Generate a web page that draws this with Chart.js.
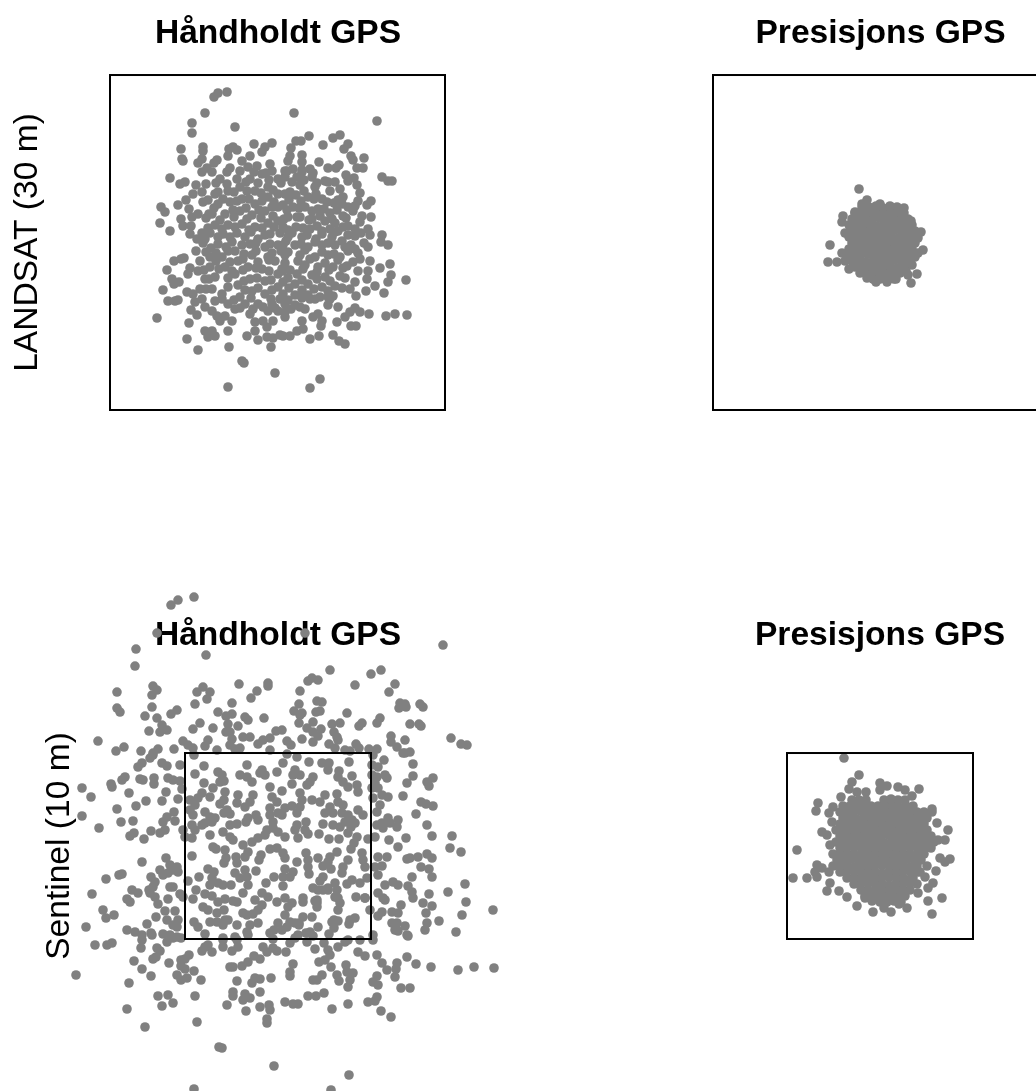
<!DOCTYPE html>
<html>
<head>
<meta charset="utf-8">
<script src="https://cdn.jsdelivr.net/npm/chart.js@4"></script>
<style>
html, body { margin: 0; background: #fff; overflow: hidden; width: 1036px; height: 1091px; }
canvas { position: absolute; }
</style>
</head>
<body>
<canvas id="c1" style="left:0;top:0" width="556" height="450"></canvas>
<canvas id="c2" style="left:600px;top:0" width="561" height="450"></canvas>
<canvas id="c3" style="left:0;top:585px" width="556" height="506"></canvas>
<canvas id="c4" style="left:600px;top:585px" width="560" height="506"></canvas>
<script>
// offsets from the box centre
const landsatHand = [
[-5.1,15],[-6,14.9],[-6.4,14.5],[-7.3,12.9],[-8.6,11.9],[-8.6,10.9],[-4.3,11.5],[-9.7,9.3],[-9.6,8.3],[-9.5,8.1],
[-7.5,9.5],[-7.5,9.1],[-7.6,8.3],[-8,7.9],[-4.5,9.5],[-4.9,9.3],[-4.1,9.2],[-5,8.6],[-2.4,9.8],[-0.6,9.9],
[-1.3,9.5],[-1.6,9],[-2.8,8.6],[-0.8,7.8],[-6.1,8.2],[-6.4,7.9],[-3.6,8.1],[-10.8,6.4],[-9.3,6],[-9.8,5.8],
[-4.8,7.4],[-5.1,7],[-7.1,7.4],[-7.6,7],[-6.6,7],[-3.8,7.1],[-3,7.5],[-2.1,7.6],[-8.2,5.7],[-7.2,5.8],
[-5.8,6.3],[-6.2,5.9],[-4.1,6.3],[-5.1,5.8],[-8.5,4.8],[-7.6,5],[-9.2,4.2],[-10,3.7],[-11.7,3.5],[-11.3,3],
[-11.8,1.9],[-10.8,1.1],[-8.9,3.3],[-8,2.8],[-8.6,2.5],[-9.7,2.3],[-9.5,1.6],[-8.7,1.6],[-8.8,0.8],[-7.6,0.9],
[-6.9,2.8],[-7.5,4],[-6,5],
[-6.3,4.8],[-5,5.1],[-3.8,5.5],[-2.8,6.3],[-1.6,6.8],[-0.6,7.1],[0,6.3],[-1,5.5],[-2.3,5.1],[-4.8,4],
[-6,3.8],[-3.6,4.3],[-2.3,3.8],[-1,4.5],[0,4.8],[-6.6,2.8],[-5.3,2.8],[-3.8,3.1],[-2.6,2.7],[-1.3,3.1],
[0,3.5],[-6.3,1.7],[-5,1.7],[-3.6,1.8],[-2.3,1.5],[-1,1.9],[0,2.1],[-7.3,0.3],[-6,0.5],[-4.8,0.5],
[-3.3,0.5],[-2,0.3],[-0.8,0.8],[0.2,0.9],[0.7,7.1],
[1.6,12.9],[9.9,12.1],[3.1,10.6],[2.3,10.1],[1.8,10.1],[1.3,9.4],[4.5,9.7],[5.5,10.4],[6.2,10.7],[7,9.8],
[6.6,9.3],[7.3,8.6],[7.5,8.2],[8.6,8.4],[7.9,7.4],[8.5,7.4],[10.4,6.5],[11,6.1],[11.4,6.1],[2.4,8.7],
[1.2,8.6],[1,8.1],[2.4,8],[4.1,8],[6.1,7.7],[5,7.4],[5.8,7.4],[1.5,7.3],[3.2,7.3],[2.4,7],
[6.8,6.7],[7.6,6.4],[7,6.1],[1.9,6.5],[3.4,6.5],[4.7,6.1],[5.7,6],[7.9,5.7],[8.2,4.9],[6.2,5.3],
[6.5,4.5],[6.4,3.8],[9.3,4.1],[8.9,3.7],[8,4.1],[7.7,3.6],[7.5,3.1],[8.4,2.6],[9.3,2.5],[8.2,2],
[9,1.3],[9.2,0.7],[10.4,0.7],[7,1.6],[6.5,2.6],[6,1.1],[7.7,0.6],
[0.7,6.5],[2.2,5.7],[3.7,5.5],[5.2,5.1],[0.7,4.8],[1.8,4.7],[3,4.5],[4.4,4.3],[5.6,3.9],[0.5,3.7],
[1.5,3.5],[2.7,3.5],[4,3.3],[5.2,2.9],[1,2.5],[2.2,2.5],[3.4,2.3],[4.7,2.1],[5.7,1.9],[0.5,1.5],
[1.8,1.5],[3.2,1.3],[4.4,1.1],[5.4,0.5],[1,0.5],[2.4,0.5],[3.8,0.3],
[10.3,0],[11,-0.3],[11.2,-2.2],[10.2,-2.6],[11.3,-3.3],[11,-4],[12.8,-3.8],[10.6,-5.1],[9.7,-4.4],[9,-2.9],
[8.9,-3.7],[8.8,-4.9],[9.1,-7.2],[10.8,-7.4],[11.7,-7.2],[12.9,-7.3],[8.2,-7],[7.7,-6.6],[7.2,-7],[7.8,-8.4],
[7.3,-8.4],[6.7,-7.5],[6,-6.5],[5.9,-8],[5.5,-9.3],[6.1,-9.9],[6.7,-10.2],[4.1,-9.4],[3.2,-9.7],[2.5,-8.7],
[1.9,-8.9],[1.2,-9.4],[0.5,-9.4],[4.2,-13.7],[3.2,-14.6],[0.7,-7.5],[2.4,-7.9],[3.5,-7.5],[4,-7.2],[4.4,-7.9],
[4.3,-8.4],[2.7,-6.7],[0.7,-7],[5,-6.3],[7.8,-5.4],[7.2,-4.7],[7.7,-4],[8.2,-1.7],[9,-0.5],[7.7,-0.7],
[9.2,-1.9],[6.9,-2.4],[6.2,-3.4],[5.5,-5.4],
[0.5,-0.3],[1.7,-0.3],[3,-0.5],[4.4,-0.3],[5.7,-0.3],[6.7,-0.5],[0.7,-1.3],[2.2,-1.3],[3.7,-1.5],[5,-1.3],
[6.2,-1.5],[2.7,-2.3],[4,-2.5],[5.5,-2.5],[0.5,-2.9],[1.9,-3.2],[3.4,-3.3],[4.7,-3.5],[0.5,-4],[1.7,-4.2],
[3,-4.2],[4.4,-4.5],[5.7,-4.4],[0.5,-5.2],[1.7,-5.3],[3,-5.3],[4.2,-5.5],[5.2,-5.7],[0.7,-6.2],[1.7,-6.3],[3.2,-5.7],
[-8.1,0.3],[-5.2,-0.5],[-8.2,-0.9],[-6.7,-0.6],[-9.4,-1.6],[-9.7,-1.7],[-10.4,-1.9],[-11.1,-2.8],[-8.8,-2.6],[-9,-3.2],
[-10.6,-3.7],[-10.4,-4.2],[-9.9,-4],[-11.5,-4.8],[-9.1,-5],[-8.5,-5.2],[-11,-5.9],[-10.3,-5.9],[-10,-5.8],[-8.3,-6],
[-8.7,-6.8],[-8.1,-7.3],[-12.1,-7.6],[-8.9,-8.1],[-6.6,-6.9],[-6.1,-7.4],[-5.8,-7.9],[-5.3,-7.4],[-4.6,-7.9],[-7.3,-8.9],
[-6.6,-8.9],[-6.3,-9.4],[-7,-9.5],[-5,-8.9],[-9.1,-9.7],[-8,-10.8],[-4.9,-10.5],[-3.6,-11.9],[-3.4,-12.1],[-0.3,-13.1],
[-5,-14.5],[-2.8,-7.2],[-2.3,-8],[-1.5,-7.9],[-0.5,-7.9],[-1.1,-8.5],[-2.3,-8.9],[-3.1,-9.4],[-2,-9.8],[-1.1,-9.5],
[-0.5,-9.6],[0.2,-9.3],[-0.7,-10.5],[-7.3,-6.5],[-7.6,-5.7],
[-7.8,-1.9],[-6.8,-1.5],[-5.6,-1.5],[-4.3,-0.9],[-2.8,-0.2],[-1.3,-0.5],[0,-0.3],[-8,-2.9],[-6.8,-2.5],[-5.3,-2.5],
[-4,-1.9],[-2.6,-1.3],[-1,-1.5],[0.3,-0.9],[-7.3,-3.7],[-6.3,-3.5],[-4.3,-3.2],[-3,-2.5],[-1.6,-2.7],[-0.3,-1.9],
[-7.8,-4.7],[-6.6,-4.7],[-5.6,-5.2],[-4,-4.3],[-2.8,-3.7],[-1.3,-3.9],[0,-3.2],[-6.3,-5.9],[-5,-6.2],[-3.8,-5.5],
[-2.6,-4.9],[-1.3,-5.2],[0,-4.5],[-4.3,-6.7],[-3.3,-6.2],[-2,-6.2],[-0.6,-6.2],[0.2,-5.7],[-1,-6.9],[0,-6.9],
[-2.4,7],[-1.2,6.9],[0.9,7.1],[2.4,7.2],[3.5,6.9],
[-3.2,6],[-2,5.9],[-0.9,6.2],[0.3,5.9],[1.4,6],[2.6,6.2],[3.9,5.9],[5,6],
[-4.4,5],[-3.1,5.1],[-1.7,4.9],[-0.5,5.2],[1.2,5],[2.6,5.1],[3.8,4.8],
[-7,4.2],[-5.5,4.3],[-4.1,4.1],[-2.9,4.3],[-1.6,4.1],[-0.4,4],[1.1,4.2],[2.3,4.1],[3.6,4.3],[4.9,4],[6,4.2],
[-6.4,3.4],[-4.5,3.2],[-3.2,3.4],[-1.9,3.2],[-0.6,3.5],[0.9,3.2],[2.1,3.4],[3.4,3.1],[4.6,3.3],[5.9,3.2],[7,3.5],
[-7.2,2.4],[-5.8,2.2],[-4.4,2.5],[-3.1,2.3],[-1.7,2.4],[-0.5,2.6],[0.6,2.3],[1.9,2.5],[3.1,2.2],[4.2,2.6],[5.4,2.3],[6.8,2.4],
[-7,1.4],[-5.6,1.3],[-4.3,1.5],[-2.9,1.2],[-1.6,1.4],[-0.4,1.5],[1,1.2],[2.5,1.4],[3.9,1.6],[5.2,1.3],[6.5,1.5],[7.7,1.3],
[-6.8,0.9],[-5.5,0.8],[-4.1,0.9],[-2.7,1],[-1.3,0.7],[1.4,0.9],[2.9,0.7],[4.4,0.8],[5.7,1],[7,0.7],[8.3,0.9],
[-7.5,-0.1],[-6,-0.2],[-4.6,0],[-3.6,-0.3],[-2.2,-0.1],[-0.8,-0.2],[0.8,0.1],[2.3,-0.2],[3.7,0],[5,-0.1],[6.4,0.1],[7.3,-0.3],[8.6,-0.1],
[-7.2,-1],[-6.2,-1.1],[-5,-0.9],[-3.4,-1.2],[-2.2,-0.9],[-0.6,-1.1],[1,-1],[2.7,-0.8],[4.4,-1],[5.6,-1.2],[7,-0.9],[8,-1.1],
[-6.2,-1.9],[-4.8,-2],[-3.5,-1.7],[-2,-2],[-0.9,-1.8],[0.7,-2.1],[2,-1.9],[3.2,-1.7],[4.7,-2.1],[6,-1.8],[7.5,-2],
[-7.4,-2.8],[-5.9,-2.7],[-4.6,-2.9],[-3.5,-2.8],[-2.2,-2.6],[-0.9,-2.9],[0.4,-2.7],[1.2,-2.8],[2.5,-2.7],[3.9,-3],[5.1,-2.8],[6.5,-2.6],[8,-2.9],
[-6.9,-3.7],[-5,-3.6],[-3.4,-3.9],[-2.1,-3.6],[-0.7,-3.8],[1,-3.6],[2.4,-3.8],[3.9,-3.7],[5.2,-3.9],[6.7,-3.6],
[-7.2,-4.7],[-5,-4.5],[-3.3,-4.8],[-2,-4.6],[-0.6,-4.8],[1.1,-4.6],[2.4,-4.8],[3.6,-4.7],[5,-4.9],[6.4,-4.6],
[-5.6,-5.7],[-4.4,-5.8],[-2.7,-5.6],[-0.7,-5.7],[1,-5.8],[2.4,-5.6],[3.7,-5.7],[5,-5.5],
[-3.8,-6.6],[-2.5,-6.7],[-1.5,-6.5],[-0.3,-6.6],[1.3,-6.7],[2.2,-6.5]
];

const landsatPrecise = [
[-2.1,5.4],[-1.3,4.3],[-1.8,3.9],[0,3.9],[1,3.7],[2.4,3.5],[-3.7,2.7],[-3.8,2.1],[3.1,2.2],[4.1,1.1],
[3.8,0.5],[-3.5,1],[-5,-0.2],[4.3,-0.7],[3.8,-1],[-5.2,-1.9],[-4.3,-1.9],[-3.8,-1],[3.7,-3.1],[3.1,-4],
[2.8,-3.2],[-3.1,-2.6],[-2,-3],[-1.3,-3.5],[-0.4,-3.9],[0.7,-3.9],[1.6,-3.6],[3.2,-2.2],[-2.5,3.1],[-1,3.4],
[-1.8,3.6],[-1.1,3.6],[-0.4,3.7],[0.3,3.5],[1,3.6],[1.7,3.6],
[-2.5,3],[-1.8,3],[-1.1,3.1],[-0.4,3],[0.3,3],[1,3],[1.7,3.1],[2.4,3],
[-2.8,2.4],[-2.1,2.4],[-1.4,2.4],[-0.7,2.4],[0,2.5],[0.7,2.4],[1.4,2.4],[2.1,2.4],[2.8,2.4],
[-3.1,1.8],[-2.4,1.8],[-1.7,1.8],[-1,1.8],[-0.3,1.7],[0.4,1.8],[1.1,1.8],[1.8,1.9],[2.5,1.8],[3.2,1.8],
[-2.8,1.2],[-2.1,1.2],[-1.4,1.1],[-0.7,1.2],[0,1.2],[0.7,1.2],[1.4,1.3],[2.1,1.2],[2.8,1.2],[3.5,1.2],
[-3.1,0.6],[-2.4,0.6],[-1.7,0.6],[-1,0.7],[-0.3,0.6],[0.4,0.6],[1.1,0.6],[1.8,0.5],[2.5,0.6],[3.2,0.6],
[-2.8,0],[-2.1,0],[-1.4,0.1],[-0.7,0],[0,0],[0.7,0],[1.4,0],[2.1,-0.1],[2.8,0],[3.5,0],
[-3.1,-0.6],[-2.4,-0.6],[-1.7,-0.5],[-1,-0.6],[-0.3,-0.6],[0.4,-0.6],[1.1,-0.7],[1.8,-0.6],[2.5,-0.6],[3.2,-0.6],
[-3.3,-1.2],[-2.6,-1.2],[-1.9,-1.2],[-1.2,-1.1],[-0.5,-1.2],[0.2,-1.2],[0.9,-1.2],[1.6,-1.3],[2.3,-1.2],[3,-1.2],[3.5,-1.4],
[-3.5,-1.8],[-2.8,-1.8],[-2.1,-1.8],[-1.4,-1.9],[-0.7,-1.8],[0,-1.8],[0.7,-1.8],[1.4,-1.7],[2.1,-1.8],[2.8,-1.8],[3,-2],
[-2.5,-2.4],[-1.8,-2.4],[-1.1,-2.3],[-0.4,-2.4],[0.3,-2.4],[1,-2.4],[1.7,-2.5],[2.4,-2.4],
[-1.5,-3],[-0.8,-3],[-0.1,-3],[0.6,-3.1],[1.3,-3],[2,-3],[2.6,-2.8],
[-0.7,-3.6],[0,-3.6],[0.7,-3.5],[1.4,-3.6]
];

const sentinelHand = [
[-8.4,24.9],[-10,24.6],[-10.7,24.1],[-12.1,21.3],[-14.2,19.7],[-14.3,18],[-7.2,19.1],[-16.1,15.4],[-16.1,13.8],[-15.8,13.4],
[-12.5,16],[-12.1,15.6],[-12.6,15.1],[-12.6,13.9],[-13.3,13],[-12.1,12.8],[-12.9,11.5],[-11.6,12.1],[-11.8,11.4],[-11.1,11.6],
[-10.7,13.2],[-10.1,13.6],[-8.3,14.2],[-8.1,15.4],[-7.5,15.9],[-6.8,15.4],[-7.1,14.7],[-8.5,11.7],[-7.8,12.3],[-6.5,11.8],
[-6,13.4],[-5.2,13],[-4.6,13.2],[-4.6,14.3],[-3.9,16.2],[-2.1,15.5],[-2.7,14.8],[-1,16.3],[-1,16],[-1.4,12.8],
[-3.3,12.9],[-3,12.6],[-5,12.2],[-4,12],[-5.2,11.4],[-4.8,11.4],[-0.2,11.5],[-18,10.5],[-16.2,9.5],[-15.4,9.9],
[-13.7,9.5],[-12,9.7],[-12.5,9.3],[-10.4,9.7],[-9.5,10.5],[-9,10.1],[-8.5,9.8],[-7,10.6],[-7.3,10],[-6.1,9.6],
[-4.6,10.7],[-3.5,10.9],[-2.8,10.9],[-4.8,10.1],[-1.5,10.6],[-2,10.2],[-0.8,10.8],[-3.8,9.8],[-4.3,9.7],[-0.8,9.6],
[2.7,21.3],[16.5,20.1],[5.2,17.6],[10.3,17.6],[9.3,17.2],[3,16.5],[3.4,16.8],[4,16.6],[7.7,16.1],[11.7,16.2],
[11.1,15.4],[2.2,15.5],[3.9,14.5],[4.4,14.4],[2.1,14.2],[1.6,13.5],[2.4,13.3],[2.2,13.1],[3.8,13.4],[4.2,13.5],
[12.1,13.8],[12.2,14.3],[12.7,14.2],[12.8,13.9],[14.2,14.2],[14.5,13.9],[6.9,13.3],[10.2,12.8],[9.9,12.3],[8.4,12.3],
[8.1,12],[3.5,12.4],[2.1,12.3],[6.2,12.3],[5.4,12.2],[13.2,12.2],[14.1,12.2],[14.3,12],[17.3,10.8],[18.3,10.2],
[18.9,10.1],[0.4,11.6],[2.9,11.8],[3.5,11.4],[4.3,11.7],[4,11],[2.4,10.7],[5.6,11.4],[5.9,10.9],[6,10.6],
[11.3,11],[11.3,10.4],[11.9,9.9],[12.7,10.6],[0.9,10.5],[1.3,10.1],[3.5,10.4],[5.1,10.2],[5.7,9.8],[6.7,9.6],
[7.2,9.5],[7.8,10.2],[8.1,9.8],[9.1,9.7],[9.9,9.7],[13.2,9.4],[12.5,9.3],
[-12.5,9.1],[-12.8,8.8],[-11.6,8.3],[-11.1,8],[-9.8,8.1],[-14,7.9],[-13.6,8.3],[-8.4,9.1],[-7.4,8],[-8.3,7.2],
[-6,7.4],[-5.6,7.1],[-5.8,6.4],[-5.4,6.5],[-3.1,8.1],[-3.8,7.1],[-3.1,6.9],[-2.6,6.4],[-1.6,7.6],[-1.8,7.3],
[-1.3,7.1],[-0.1,7.4],[-15.3,6.9],[-15.6,6.6],[-16.7,6.2],[-16.6,5.9],[-13.8,6.7],[-13.5,6.6],[-12.4,6.8],[-12.4,6.2],
[-11,6.8],[-10.5,6.6],[-9.8,6.5],[-7.4,6.3],[-19.6,5.8],[-18.7,4.9],[-14.9,5.3],[-11.2,5.4],[-9.6,5.7],[-13.2,4.5],
[-14.2,4],[-11.6,4.5],[-10,4.7],[-16.1,3.7],[-6.5,5.8],[-7.6,5.3],[-8,4.8],[-8.8,4.6],[-8.3,4.1],[-8.8,3.6],
[-6.8,4.9],[-5.3,5.4],[-5.4,4.6],[-5.8,4.2],[-4,5.1],[-4.1,4.3],[-2.5,5.1],[-2.8,4.4],[-3.3,3.9],[-0.8,5.9],
[-0.6,4.9],[-0.1,4.4],[-5.1,3.6],[-5.4,3.3],[-4.8,3.2],[-7.3,3.4],[-6.8,2.9],[-6.3,2.8],[-6.6,2.4],[-8.5,3.1],
[-10.4,3.4],[-11.1,2.9],[-11.5,2.4],[-10.3,2.5],[-19.6,3],[-15.7,2.4],[-14.5,2.5],[-17.9,1.8],[-14.8,1],[-14.4,1.3],
[-12.7,1.5],[-11.8,1.3],[-11.3,1.6],[-13.4,0.7],[-9.5,1.6],[-9.3,0.9],[-8.6,2.1],[-8.6,0.8],[-8.3,1.6],[-7.3,2.3],
[-7.6,2.1],[-6.8,1.1],[-5.5,1.4],[-4.8,2.1],[-4.1,2.2],[-3.2,2.4],[-2.2,3.1],[-2,2.6],[-3,2.8],[-0.8,3.8],
[-0.8,3.1],[-0.5,2.4],[0,3.3],[-4.8,0.9],[-4.5,0.6],[-3.5,0.1],[-2.6,0.4],[-2,0.8],[-1.3,1.1],[-1.1,1.6],
[-0.5,1.8],[0,1.4],[-6.5,-0.1],[-6.2,-0.3],[-5.3,-0.4],[-3,-0.6],[-3.3,-1.1],[-0.8,-0.3],[-0.1,-0.2],[-8.6,-1],
[-5.2,-1.2],[-5.4,-1.7],[-4.2,-1.1],[-4.1,-1.7],[-1.7,-0.9],[-1.9,-1.4],[-13.6,-1.6],[-11.2,-1.2],[-10.8,-1.9],[-10.5,-2.4],
[-11,-2.7],[-10,-2.6],[-10.1,-2.1],[-11.8,-2.4],[-11.5,-2.9],[-15.6,-2.8],[-15.9,-2.9],[-17.2,-3.3],[-12.7,-3.1],[-12.3,-3.6],
[-12.5,-4.1],[-12.9,-4.4],[-10.8,-4.1],[-10.5,-4.1],[-9,-3.5],[-7.9,-3.1],[-7,-2.3],[-6.4,-2.6],[-6.6,-3.2],[-6.8,-3.9],
[-6,-3.7],[-5.5,-3.9],[-4.7,-3.9],[-4.3,-2.7],[-3.8,-3.2],[-3.3,-2.4],[-3.1,-3.1],[-3,-3.9],[-2.2,-2.5],[-3.5,-4.7],
[-1.2,-3.7],[-0.4,-3.1],[-18.6,-4.8],[-14.6,-4.4],[-14,-4.7],[-15.1,-5.3],[-14.8,-5.6],[-12.8,-4.7],[-12.3,-5.1],[-12,-5.8],
[-11.3,-6.5],[-11,-5.3],[-9.8,-4.8],[-9.5,-5.1],[-8.2,-4.4],[-8.5,-5.3],[-7.3,-4.8],[-6.6,-5],[-6,-5.6],[-5.3,-5.3],
[-4.5,-5.5],[-4.1,-5.6],[-2.3,-5.4],[-1.6,-4.7],[-1,-5.1],[-0.1,-5.6],[-17.5,-6.4],[-17.2,-7.2],[-16.4,-6.9],[-19.2,-8.1],
[-10.3,-6.5],[-12.2,-7.1],[-13.1,-7.8],[-11.1,-7.4],[-10.5,-7.9],[-10,-7.4],[-10.1,-8.1],[-7.5,-6.1],[-7,-6.4],[-6.1,-6.7],
[-5.4,-6.4],[-3.5,-6.7],[-3.1,-6.9],[-2.5,-6.8],[-1.6,-5.9],[-2,-6.4],[-6.1,-7.6],[-5.3,-7.4],[-5,-7.4],[-6.8,-7.6],
[-5.5,-7.9],[-8.4,-7.6],[-8,-8.1],[-4.1,-7.9],[-2.8,-7.9],[-3.1,-8.6],[-2,-7.7],[-0.4,-8.4],[-0.8,-8.7],[0,-7.7],
[-7.3,-8.8],[-15.1,-8.4],[-14.3,-8.6],[-13.6,-8.9],[-12.7,-8.7],[-11.5,-8.8],[-10.8,-8.9],[-10.1,-9.1],[-5.5,-9.2],[-4.3,-9.1],
[-3,-8.9],
[0.9,9.2],[1.9,8.9],[0.5,8.3],[3.1,8.4],[4.4,8.3],[5.1,8.3],[7.1,8.4],[5,7.6],[1.7,7.6],[1.5,7.1],
[2.2,7.1],[3.5,6.9],[3.2,6.4],[2.9,6.1],[1.4,6.2],[6.1,7.5],[6,6.9],[7.4,7],[6.5,6.4],[7,5.9],
[7.9,6.1],[8,5.4],[0.4,5.5],[2.2,5.3],[2.4,4.6],[4.7,5.1],[4.2,4.4],[5.9,5.2],[6,4.4],[6.5,4.1],
[3.4,4.6],[1.4,4],[0.7,3.8],[0.4,3.1],[2.2,3.9],[1.9,3.3],[5.2,3.9],[4.7,3.3],[5.5,3.3],[8,3.6],
[8.5,3.1],[6.4,3.3],[7,3.1],[7.4,2.6],[6.7,2.4],[5.5,2.1],[6.2,1.9],[2.8,2.4],[1.9,2.1],[1.7,1.6],
[2.7,1.6],[4.5,2.2],[7.7,2.3],[7.3,1.9],[7,1.3],[0.7,0.9],[2,0.8],[3,1.2],[4.1,1.2],[5.1,0.7],
[6.1,0.7],[7.9,0.9],[7.6,0.3],[7.3,-0.3],[9,0.7],[0.5,-0.7],[0.7,-1.2],[2.8,-0.7],[3,-1.4],[3,-2.1],
[4,-1.2],[5.9,-0.6],[5.2,-1.1],[5,-1.6],[4.5,-2],[5.3,-2.3],[7,-1.4],[6.5,-2.1],[6.4,-2.7],[8.4,-0.7],
[8.5,-1.4],[8.7,-2.1],[1.9,-1.6],[1.5,-2.6],[0.7,-2.3],[1.2,-3.1],[3.1,-2.8],[0.5,-3.1],[4.5,-3.1],[4.2,-3.5],
[7.4,-3.4],[6.9,-3.8],[8.2,-3.7],[8.9,-3.2],[5.7,-3.7],[5.9,-4.4],[5,-4.2],[0.5,-4],[3.5,-4.2],[4,-4.4],
[5,-4.4],[5.7,-5.1],[6,-5.2],[8.7,-5.2],[0.7,-5.2],[2.5,-5.2],[4.5,-4.4],[3.9,-5.4],[3.7,-5.5],[6,-6.4],
[6.2,-5.7],[7.8,-5.1],[8.7,-5.2],[1,-6.1],[1.4,-5.7],[2.5,-5.6],[3.9,-6.1],[3.9,-5.7],[0.7,-6.9],[2.5,-7.1],
[6,-7.5],[5.6,-7.4],[7.2,-7.4],[7.7,-7.2],[3.4,-7.1],[1.2,-7.6],[2.1,-7.9],[1.7,-7.7],[5.4,-7.6],[7.1,-7.8],
[5.6,-8.2],[2.8,-8.7],[3.2,-8.6],[4,-8.1],[0.9,-8.1],[2.1,-7.7],[0.4,-8.4],[2,-8.9],[3.5,-9],[5.1,-8.8],
[9.5,9.1],[12.7,9.3],[13.5,8.2],[10.6,8.6],[9.4,8.1],[10,7.9],[13.5,7],[12.9,6.3],[9.4,7.1],[9.9,6.9],
[10.7,7.1],[10.9,6.8],[9.7,6.3],[10,5.8],[9.4,5.8],[14.9,6.4],[15.5,6.8],[15.1,6],[12.5,5],[10.4,5.1],
[11,4.9],[9.5,4.8],[14.3,4.4],[14.8,4.2],[15.5,4],[10.2,4.1],[9.9,3.4],[13.8,3.2],[11,2.8],[10.4,2.3],
[9.9,2.1],[10.5,1.8],[11.2,2.3],[12,2.6],[11.9,1.9],[14.9,2.1],[9.7,0.9],[15.4,1],[17.4,1],[12.8,0.8],
[11.1,0.6],[12,-0.1],[17.2,-0.2],[18.3,-0.6],[10,-1.1],[10.9,-1.1],[12.9,-1.3],[13.2,-1.2],[14,-1.1],[14.9,-0.8],
[15.4,-1.2],[9.7,-2.1],[10.4,-2],[14.3,-2.1],[15.1,-2.3],[10,-2.9],[13.4,-3.1],[15.4,-3.1],[18.7,-3.8],[10.7,-3.9],
[11.5,-3.6],[12,-3.9],[13,-4],[13.4,-4.6],[13.5,-5.2],[17,-4.6],[15.1,-4.8],[10,-4.7],[10.5,-5.2],[10.7,-5.4],
[18.8,-5.6],[14.5,-5.7],[15.4,-6],[12.3,-5.9],[21.5,-6.4],[10.4,-6.6],[10,-7],[9.2,-6.4],[11.4,-6.6],[12,-6.7],
[14.8,-6.7],[18.4,-6.9],[16.1,-7.5],[11.4,-7.7],[11.9,-7.7],[12.7,-8],[14.9,-7.7],[14.7,-8.4],[12,-8.5],[11.7,-8.4],
[12.9,-8.9],[17.8,-8.6],[9.5,-8.9],
[-18.3,-9.9],[-17.1,-9.9],[-16.6,-9.7],[-20.2,-12.9],[-13.7,-10.2],[-13.6,-9.4],[-12.6,-8.9],[-11.1,-9.6],[-10.5,-9.2],[-9.7,-9.2],
[-12.1,-10.2],[-11.8,-10.5],[-14.4,-11.5],[-12.2,-11.1],[-12.5,-11.3],[-10.9,-11.7],[-13.6,-12.3],[-12.7,-13],[-14.9,-13.7],[-8.9,-10.9],
[-9.3,-11.3],[-9.7,-11.4],[-9.7,-12],[-9.3,-12.3],[-8.4,-12.5],[-10.1,-12.9],[-9.1,-13.2],[-9.7,-13.4],[-7.7,-13.4],[-12,-15],
[-11,-14.9],[-10.5,-15.7],[-11.6,-16],[-8.3,-15],[-15.1,-16.3],[-13.3,-18.1],[-8.1,-17.6],[-5.9,-20.1],[-5.6,-20.2],[-0.4,-22],
[-8.4,-24.3],[-7.3,-10.1],[-7.6,-10.5],[-6.6,-10.6],[-7,-9.9],[-5.5,-9.4],[-5.5,-10.1],[-4.1,-9.4],[-4,-10.1],[-4.6,-10.5],
[-0.5,-9.3],[-1.5,-10.1],[-1.1,-10.6],[-0.5,-10.2],[-0.1,-10.5],[-2.4,-11],[-1.8,-11.3],[-3,-11.6],[-3.6,-12],[-4.8,-12.1],
[-4.5,-12.1],[-4.1,-13.5],[-0.7,-13.2],[-2.3,-13.2],[-1.8,-13.3],[-2.6,-13.7],[-4.5,-14.6],[-4.5,-15],[-3.3,-14.8],[-2.8,-15.2],
[-3.5,-15.4],[-1.8,-14.6],[-5.1,-15.9],[-1.8,-16.1],[-3.2,-16.5],[-0.9,-15.9],[-0.8,-16.4],[-1.1,-17.3],[-1.1,-17.7],
[8.2,-9.4],[9.5,-9.4],[7,-9.4],[6.7,-9.6],[6,-10.1],[4.6,-9.7],[5,-10.4],[5.2,-10.9],[3.7,-10.3],[2.9,-9.6],
[1.7,-9.2],[1.2,-9.7],[0.8,-10.6],[8,-10.6],[8.7,-11],[9.9,-10.9],[12.9,-11.1],[13,-9],[10.4,-11.7],[11.9,-11.7],
[11.8,-12.3],[10.9,-12.4],[13.8,-11.8],[15.3,-12.1],[18,-12.4],[19.6,-12.1],[21.6,-12.2],[4.1,-11.6],[4.7,-11.4],[5.3,-12.1],
[6.8,-11.9],[6.9,-12.6],[7.5,-12.7],[1.5,-11.8],[1.2,-12.6],[1.2,-13],[4.4,-12.9],[3.5,-13.4],[3.9,-13.4],[5.9,-12.9],
[6.1,-13.5],[7.2,-13.4],[7,-14.1],[9.9,-13],[9.5,-13.6],[10,-13.9],[11.7,-13.1],[12.3,-14.2],[13.2,-14.2],[4.6,-14.7],
[3.8,-15],[3,-15],[0.7,-15.6],[1.5,-15.8],[2,-15.8],[5.4,-16.3],[7,-15.8],[9.9,-15.1],[9.7,-15.5],[9,-15.6],
[10.3,-16.5],[11.3,-17.1],[7.1,-22.9],[5.3,-24.4]
];

const sentinelPrecise = [
[-3.6,8.8],[-2.1,7.1],[-2.8,6.4],[-3.1,5.7],[-2.3,5.4],[-1.4,5.4],[0,6.3],[0.7,6],[0,5.6],[1.8,5.9],
[2.5,5.6],[3.9,5.7],[3.2,5],[-3.9,4.9],[-6.2,4.3],[-6.4,3.5],[-4.7,3.9],[-5.1,3.3],[5.2,3.7],[5.2,3.4],
[5.7,2.3],[6.8,1.6],[-5.8,1.4],[-5.3,1.1],[-4.8,2.4],[6.5,0.6],[5.8,0.6],[-5,0.1],[-8.3,-0.4],[6,-1.2],
[6.5,-1.6],[7,-1.3],[-6.3,-1.9],[-5.8,-2.2],[-6.5,-2.6],[-6.3,-3.1],[-8.7,-3.2],[-7.3,-3.2],[5.6,-2.5],[4.7,-2],
[-5.1,-2.6],[4.5,-3.1],[5.3,-3.7],[-5,-3.7],[-5.3,-4.5],[-4.1,-4.5],[-3.3,-5.1],[-2.3,-6],[-1.5,-5.2],[-0.8,-5.5],
[-0.7,-6.6],[0.4,-6.2],[1.1,-6.6],[2.7,-6.2],[1.9,-5.8],[3.8,-4.7],[4.8,-5.5],[6.2,-5.2],[5.2,-6.8],[4.8,-4.2],
[-2.8,4.6],[-2.1,4.6],[-1.4,4.6],[0.4,4.6],[1.1,4.7],[1.8,4.6],[2.5,4.6],
[-3.7,4],[-3,4],[-2.3,4],[-1.6,4.1],[-0.9,4],[-0.2,4],[0.5,4],[1.2,4],[1.9,3.9],[2.6,4],[3.3,4],
[-4,3.4],[-3.3,3.4],[-2.6,3.4],[-1.9,3.5],[-1.2,3.4],[-0.5,3.4],[0.2,3.4],[0.9,3.3],[1.6,3.4],[2.3,3.4],[3,3.4],[3.7,3.4],[4.4,3.4],
[-3.7,2.8],[-3,2.8],[-2.3,2.7],[-1.6,2.8],[-0.9,2.8],[-0.2,2.8],[0.5,2.9],[1.2,2.8],[1.9,2.8],[2.6,2.8],[3.3,2.7],[4,2.8],[4.7,2.8],
[-4,2.2],[-3.3,2.2],[-2.6,2.2],[-1.9,2.2],[-1.2,2.1],[-0.5,2.2],[0.2,2.2],[0.9,2.2],[1.6,2.3],[2.3,2.2],[3,2.2],[3.7,2.2],[4.4,2.2],
[-4.4,1.6],[-3.7,1.6],[-3,1.7],[-2.3,1.6],[-1.6,1.6],[-0.9,1.6],[-0.2,1.5],[0.5,1.6],[1.2,1.6],[1.9,1.6],[2.6,1.7],[3.3,1.6],[4,1.6],[4.7,1.6],
[-4,1],[-3.3,1],[-2.6,1],[-1.9,0.9],[-1.2,1],[-0.5,1],[0.2,1],[0.9,1.1],[1.6,1],[2.3,1],[3,1],[3.7,0.9],[4.4,1],[5.1,1],
[-4.4,0.4],[-3.7,0.4],[-3,0.4],[-2.3,0.5],[-1.6,0.4],[-0.9,0.4],[-0.2,0.4],[0.5,0.3],[1.2,0.4],[1.9,0.4],[2.6,0.4],[3.3,0.5],[4,0.4],[4.7,0.4],[5.4,0.4],
[-4,-0.2],[-3.3,-0.2],[-2.6,-0.1],[-1.9,-0.2],[-1.2,-0.2],[-0.5,-0.2],[0.2,-0.3],[0.9,-0.2],[1.6,-0.2],[2.3,-0.2],[3,-0.1],[3.7,-0.2],[4.4,-0.2],[5.1,-0.2],
[-4.7,-0.8],[-4,-0.8],[-3.3,-0.8],[-2.6,-0.8],[-1.9,-0.9],[-1.2,-0.8],[-0.5,-0.8],[0.2,-0.8],[0.9,-0.7],[1.6,-0.8],[2.3,-0.8],[3,-0.8],[3.7,-0.9],[4.4,-0.8],
[-4.3,-1.4],[-3.6,-1.4],[-2.9,-1.3],[-2.2,-1.4],[-1.5,-1.4],[-0.8,-1.4],[-0.1,-1.5],[0.6,-1.4],[1.3,-1.4],[2,-1.4],[2.7,-1.3],[3.4,-1.4],[4.1,-1.4],
[-4.7,-2],[-4,-2],[-3.3,-2],[-2.6,-2.1],[-1.9,-2],[-1.2,-2],[-0.5,-2],[0.2,-1.9],[0.9,-2],[1.6,-2],[2.3,-2],[3,-2.1],[3.7,-2],
[-4,-2.6],[-3.3,-2.6],[-2.6,-2.5],[-1.9,-2.6],[-1.2,-2.6],[-0.5,-2.6],[0.2,-2.7],[0.9,-2.6],[1.6,-2.6],[2.3,-2.6],[3,-2.5],[3.7,-2.6],[4,-2.6],
[-3.3,-3.2],[-2.6,-3.2],[-1.9,-3.2],[-1.2,-3.3],[-0.5,-3.2],[0.2,-3.2],[0.9,-3.1],[1.6,-3.2],[2.3,-3.2],[3,-3.3],[3.3,-3.2],
[-2.6,-3.8],[-1.9,-3.8],[-1.2,-3.7],[-0.5,-3.8],[0.2,-3.8],[0.9,-3.9],[1.6,-3.8],[2.3,-3.8],[3,-3.7],[3.7,-3.8],
[-1.9,-4.4],[-1.2,-4.4],[-0.5,-4.5],[0.2,-4.4],[0.9,-4.4],[1.6,-4.3],[2.3,-4.4],[3,-4.4],
[-1.5,-5],[-0.8,-5],[-0.1,-5],[0.6,-5.1],[1.3,-5],[2,-5],[2.5,-5],
[0,-5.6],[0.7,-5.6],[1.4,-5.5],[2.1,-5.6]
];

// points may leave the box, the element draw skips anything outside chartArea
const boxBorder = {
  id: 'boxBorder',
  beforeDatasetsDraw(chart) {
    chart.$box = chart.chartArea;
    chart.chartArea = { left: 0, top: 0, right: chart.width, bottom: chart.height, width: chart.width, height: chart.height };
  },
  afterDatasetsDraw(chart) {
    chart.chartArea = chart.$box;
    const a = chart.chartArea, ctx = chart.ctx;
    ctx.save();
    ctx.strokeStyle = '#000';
    ctx.lineWidth = 2;
    ctx.strokeRect(a.left, a.top, a.width, a.height);
    ctx.restore();
  }
};

function panel(id, title, points, half, titlePad, sideLabel, leftW, rightW, padBottom) {
  const fontSize = 33.6;
  const hidden = {
    ticks: { display: false },
    grid: { display: false, drawTicks: false },
    border: { display: false }
  };
  const yTitle = sideLabel ? {
    display: true, text: sideLabel.text, color: '#000',
    font: { family: 'Liberation Sans', size: fontSize },
    padding: { top: sideLabel.offset, bottom: 0 }
  } : { display: false };
  new Chart(document.getElementById(id), {
    type: 'scatter',
    data: { datasets: [{
      data: points.map(p => ({ x: p[0], y: p[1] })),
      backgroundColor: '#808080',
      pointRadius: 4.8,
      pointBorderWidth: 0,
      clip: false
    }] },
    options: {
      responsive: false,
      animation: false,
      layout: { padding: { bottom: padBottom } },
      plugins: {
        legend: { display: false },
        tooltip: { enabled: false },
        title: {
          display: true, text: title, color: '#000',
          font: { family: 'Liberation Sans', size: fontSize, weight: 'bold' },
          padding: titlePad
        }
      },
      scales: {
        x: { type: 'linear', display: false, min: -half[0], max: half[1] },
        y: { type: 'linear', min: -half[0], max: half[1], ...hidden, title: yTitle, afterFit(s) { s.width = leftW; } },
        margin: { type: 'linear', position: 'right', ...hidden, afterFit(s) { s.width = rightW; } }
      }
    },
    plugins: [boxBorder]
  });
}

panel('c1', 'Håndholdt GPS', landsatHand, [16.8, 16.7], { top: 14, bottom: 20.7 }, { text: 'LANDSAT (30 m)', offset: 8 }, 110, 111, 40);
panel('c2', 'Presisjons GPS', landsatPrecise, [16.7, 16.8], { top: 14, bottom: 20.7 }, null, 113, 113, 40);
panel('c3', 'Håndholdt GPS', sentinelHand, [9.3, 9.3], { top: 31, bottom: 96.7 }, { text: 'Sentinel (10 m)', offset: 40 }, 185, 185, 152);
panel('c4', 'Presisjons GPS', sentinelPrecise, [9.3, 9.3], { top: 31, bottom: 96.7 }, null, 187, 187, 152);
</script>
</body>
</html>
